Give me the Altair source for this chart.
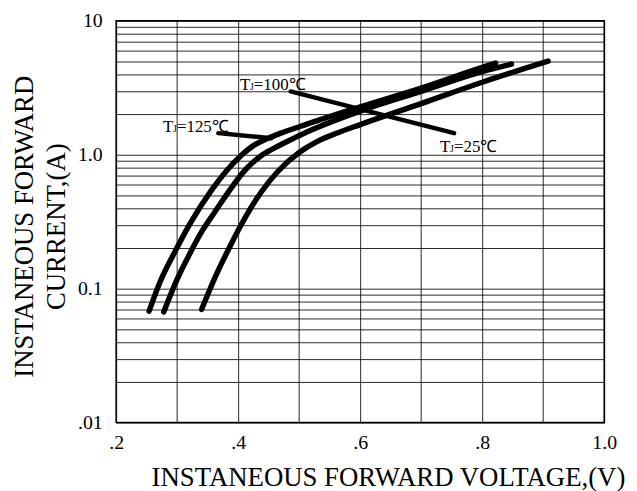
import altair as alt
import pandas as pd

# --- curve data ---
v125 = [0.254, 0.273, 0.294, 0.32, 0.357, 0.404, 0.425, 0.446, 0.47, 0.5, 0.6, 0.7, 0.8, 0.822]
i125 = [0.068, 0.115, 0.18, 0.30, 0.55, 0.98, 1.17, 1.31, 1.45, 1.62, 2.28, 3.15, 4.49, 4.83]

v100 = [0.278, 0.299, 0.32, 0.341, 0.362, 0.415, 0.44, 0.462, 0.49, 0.52, 0.6, 0.7, 0.8, 0.848]
i100 = [0.067, 0.115, 0.18, 0.27, 0.375, 0.80, 1.0, 1.14, 1.32, 1.53, 2.12, 2.97, 4.17, 4.75]

v25 = [0.34, 0.362, 0.388, 0.405, 0.437, 0.465, 0.5, 0.53, 0.56, 0.6, 0.7, 0.8, 0.908]
i25 = [0.07, 0.121, 0.213, 0.30, 0.52, 0.75, 1.04, 1.26, 1.44, 1.68, 2.41, 3.48, 5.0]

series_names = ["125", "100", "25"]

# --- annotation data ---
label_v = [0.277, 0.403, 0.731]
label_i = [1.47, 3.02, 1.05]
label_rest = ["=125℃", "=100℃", "=25℃"]

lead_v1 = [0.3675, 0.486]
lead_i1 = [1.45, 2.97]
lead_v2 = [0.454, 0.754]
lead_i2 = [1.33, 1.45]

# --- axis ticks ---
x_ticks = [0.2, 0.3, 0.4, 0.5, 0.6, 0.7, 0.8, 0.9, 1.0]
x_label_map = {0.2: ".2", 0.4: ".4", 0.6: ".6", 0.8: ".8", 1.0: "1.0"}
y_ticks = [0.01, 0.02, 0.03, 0.04, 0.05, 0.06, 0.07, 0.08, 0.09,
           0.1, 0.2, 0.3, 0.4, 0.5, 0.6, 0.7, 0.8, 0.9,
           1, 2, 3, 4, 5, 6, 7, 8, 9, 10]
y_label_map = {0.01: ".01", 0.1: "0.1", 1: "1.0", 10: "10"}

rows = []
for name, vs, iss in zip(series_names, [v125, v100, v25], [i125, i100, i25]):
    for v, i in zip(vs, iss):
        rows.append({"series": name, "v": v, "i": i})
df = pd.DataFrame(rows)

ann = pd.DataFrame({"v": label_v, "i": label_i, "rest": label_rest})
lead = pd.DataFrame({"v": lead_v1, "i": lead_i1, "v2": lead_v2, "i2": lead_i2})

x_expr = "".join(f"datum.value == {k} ? '{s}' : " for k, s in x_label_map.items()) + "''"
y_expr = "".join(f"datum.value == {k} ? '{s}' : " for k, s in y_label_map.items()) + "''"

FONT = "Liberation Serif"

xscale = alt.Scale(domain=[0.2, 1.0], nice=False, zero=False)
yscale = alt.Scale(type="log", domain=[0.01, 10], nice=False)

xaxis = alt.Axis(values=x_ticks, labelExpr=x_expr, grid=True, ticks=False, domain=False,
                 labelFont=FONT, labelFontSize=20, labelColor="black", labelPadding=10,
                 labelOverlap=False, labelFlush=False,
                 title="INSTANEOUS FORWARD VOLTAGE,(V)", titleFont=FONT, titleFontSize=27,
                 titleFontWeight="normal", titleColor="black",
                 titleX=274, titleY=63, titleAlign="center", titleBaseline="alphabetic")
yaxis = alt.Axis(values=y_ticks, labelExpr=y_expr, grid=True, ticks=False, domain=False,
                 labelFont=FONT, labelFontSize=20, labelColor="black", labelPadding=14,
                 labelOverlap=False, labelFlush=False,
                 title=["INSTANEOUS FORWARD", "CURRENT,(A)"], titleFont=FONT, titleFontSize=27,
                 titleFontWeight="normal", titleColor="black", titleAngle=-90,
                 titleX=-92, titleY=207, titleAlign="center", titleBaseline="middle",
                 titleLineHeight=32)

lines = alt.Chart(df).mark_line(color="black", strokeWidth=5.5, interpolate="monotone",
                                strokeCap="round", clip=True).encode(
    x=alt.X("v:Q", scale=xscale, axis=xaxis),
    y=alt.Y("i:Q", scale=yscale, axis=yaxis),
    detail="series:N",
    order="v:Q",
)

leaders = alt.Chart(lead).mark_rule(color="black", strokeWidth=4.5, strokeCap="round").encode(
    x="v:Q", y="i:Q", x2="v2:Q", y2="i2:Q"
)

t_part = alt.Chart(ann).mark_text(text="T", font=FONT, fontSize=17, align="left",
                                  baseline="alphabetic", color="black").encode(x="v:Q", y="i:Q")
j_part = alt.Chart(ann).mark_text(text="J", font=FONT, fontSize=10, align="left",
                                  baseline="alphabetic", color="black", dx=10).encode(x="v:Q", y="i:Q")
rest_part = alt.Chart(ann).mark_text(font=FONT, fontSize=17, align="left",
                                     baseline="alphabetic", color="black", dx=14).encode(
    x="v:Q", y="i:Q", text="rest:N")

chart = alt.layer(lines, leaders, t_part, j_part, rest_part).properties(
    width=492, height=405,
    autosize=alt.AutoSizeParams(type="none"),
    padding={"left": 109, "top": 11, "right": 25, "bottom": 67},
    background="white",
).configure_view(stroke="black", strokeWidth=1.5).configure_axis(
    gridColor="black", gridOpacity=0.85, gridWidth=1
)

chart.save("out.html", embed_options={"renderer": "svg", "actions": False})
